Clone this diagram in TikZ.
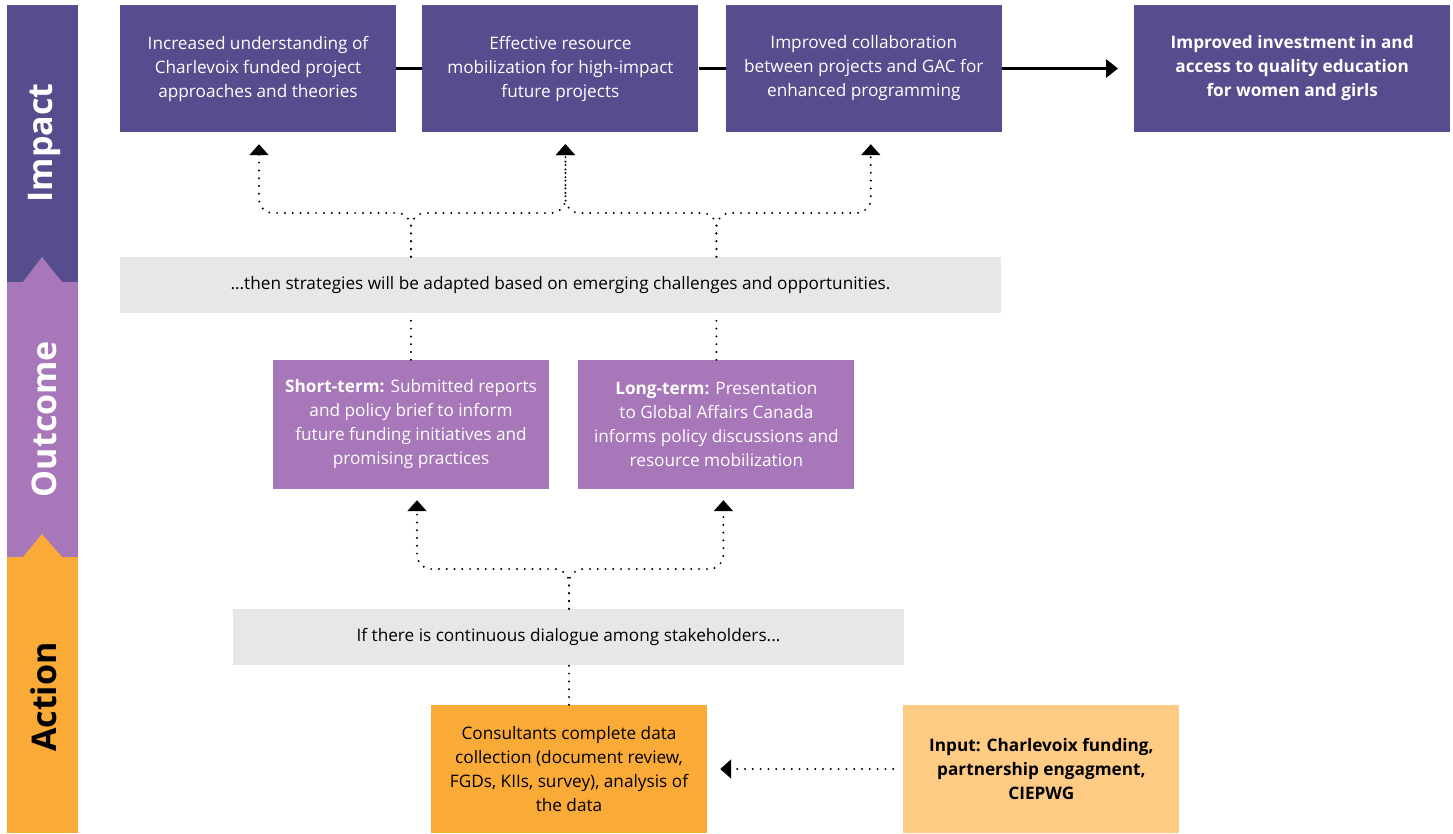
\documentclass[tikz,border=0pt]{standalone}
\usepackage{fontspec}
\setmainfont{Open Sans}
\usetikzlibrary{arrows.meta,positioning}

\definecolor{impactcol}{HTML}{574C8E}
\definecolor{outcomecol}{HTML}{A777B9}
\definecolor{actioncol}{HTML}{FAAA36}
\definecolor{inputcol}{HTML}{FDCB84}
\definecolor{graycol}{HTML}{E6E7E8}

\tikzset{
  box/.style={rectangle, inner sep=0pt, align=center, font=\fontsize{17.2}{24}\selectfont},
  impactbox/.style={box, fill=impactcol, text=white, minimum width=276pt, minimum height=127pt},
  outcomebox/.style={box, fill=outcomecol, text=white, minimum width=276pt, minimum height=129pt},
  actionbox/.style={box, fill=actioncol, text=black, minimum width=276pt, minimum height=128pt},
  inputbox/.style={box, fill=inputcol, text=black, minimum width=276pt, minimum height=128pt},
  graybox/.style={box, fill=graycol, text=black, minimum height=56pt},
  barlabel/.style={rotate=90, inner sep=0pt, font=\fontsize{34}{34}\selectfont\bfseries},
}

\begin{document}
\begin{tikzpicture}[x=1pt,y=-1pt,
  dotline/.style={line width=2.2pt, line cap=round, dash pattern=on 0pt off 7.8pt, rounded corners=14pt},
  dotarrow/.style={dotline, -{Triangle[width=19pt,length=11pt]}, shorten >=12pt},
  solidline/.style={line width=3pt},
  ]
\useasboundingbox (0,0) rectangle (1453,833);

% side bar
\fill[impactcol] (7,5) rectangle (78,282);
\fill[outcomecol] (7,282) rectangle (78,557);
\fill[actioncol] (7,557) rectangle (78,833);
\fill[outcomecol] (23,282) -- (42,257) -- (62,282) -- cycle;
\fill[actioncol] (23,557) -- (42,534) -- (62,557) -- cycle;
\node[barlabel, text=white] (lblimp) at (44,143) {Impact};
\node[barlabel, text=white] (lblout) at (44,419) {Outcome};
\node[barlabel, text=black] (lblact) at (44,697) {Action};

% impact
\node[impactbox] (imp1) at (258,68.5) {Increased understanding of\\Charlevoix funded project\\approaches and theories};
\node[impactbox, right=26pt of imp1] (imp2) {Effective resource\\mobilization for high-impact\\future projects};
\node[impactbox, right=27pt of imp2] (imp3) {Improved collaboration\\between projects and GAC for\\enhanced programming};
\node[impactbox, right=132pt of imp3, minimum width=316pt, font=\fontsize{17.2}{24}\selectfont\bfseries] (imp4) {Improved investment in and\\access to quality education\\for women and girls};

% outcome
\node[graybox, minimum width=881pt] (then1) at (560.5,285) {...then strategies will be adapted based on emerging challenges and opportunities.};
\node[outcomebox] (short) at (411,424.5) {\textbf{Short-term:} Submitted reports\\and policy brief to inform\\future funding initiatives and\\promising practices};
\node[outcomebox, right=29pt of short] (long) {\textbf{Long-term:} Presentation\\to Global Affairs Canada\\informs policy discussions and\\resource mobilization};

% action
\node[graybox, minimum width=671pt] (if) at (568.5,637) {If there is continuous dialogue among stakeholders...};
\node[actionbox] (cons) at (569,769) {Consultants complete data\\collection (document review,\\FGDs, KIIs, survey), analysis of\\the data};
\node[inputbox, right=196pt of cons, font=\fontsize{17.2}{24}\selectfont\bfseries] (input) {Input: Charlevoix funding,\\partnership engagment,\\CIEPWG};

\coordinate (upbus) at (0,213);
\coordinate (lowbus) at (0,569);

\draw[solidline] (imp1) -- (imp2);
\draw[solidline] (imp2) -- (imp3);
\draw[solidline, -{Triangle[width=18pt,length=12pt]}, shorten >=16pt] (imp3) -- (imp4);

\draw[dotarrow] (short.north |- then1.north) -- (short.north |- upbus) -| ([xshift=1pt]imp1.south);
\draw[dotarrow] (short.north |- then1.north) -- (short.north |- upbus) -| ([xshift=5pt]imp2.south);
\draw[dotarrow] (long.north |- then1.north) -- (long.north |- upbus) -| ([xshift=5pt]imp2.south);
\draw[dotarrow] (long.north |- then1.north) -- (long.north |- upbus) -| ([xshift=7pt]imp3.south);
\draw[dotline] (short.north) -- (short.north |- then1.south);
\draw[dotline] (long.north) -- (long.north |- then1.south);

\draw[dotarrow, shorten >=11pt] (cons.north |- if.north) -- (cons.north |- lowbus) -| ([xshift=6pt]short.south);
\draw[dotarrow, shorten >=11pt] (cons.north |- if.north) -- (cons.north |- lowbus) -| ([xshift=7pt]long.south);
\draw[dotline] (cons.north) -- (cons.north |- if.south);
\draw[dotarrow, shorten <=10pt, shorten >=13pt] (input.west) -- (cons.east);
\end{tikzpicture}
\end{document}
